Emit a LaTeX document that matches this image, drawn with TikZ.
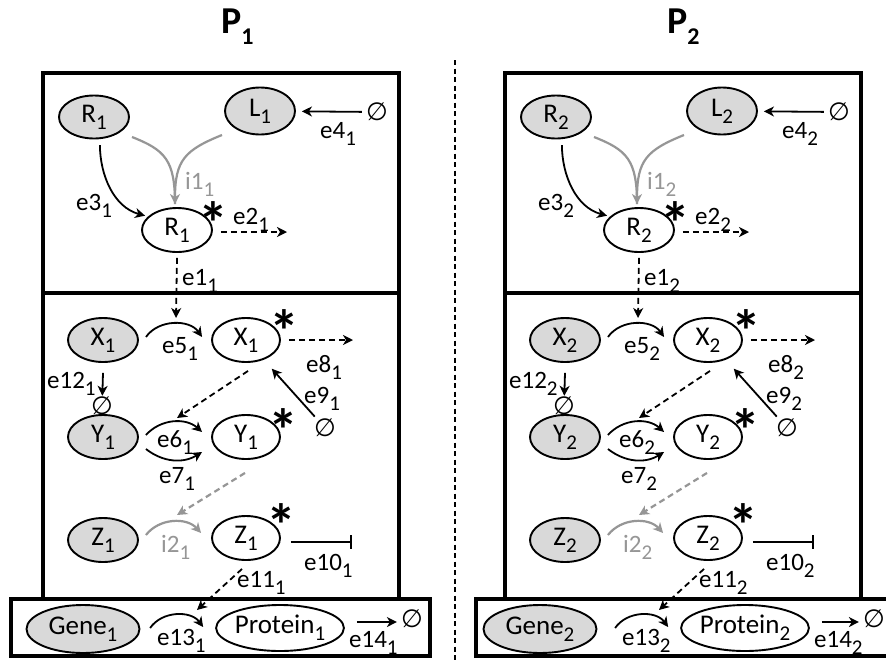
\documentclass[tikz,border=0pt]{standalone}
\usepackage{fontspec}
\setmainfont{Carlito}
\newfontfamily\djv{DejaVu Sans}
\usetikzlibrary{arrows.meta,shapes.geometric,calc}
\definecolor{nodegray}{RGB}{217,217,217}
\definecolor{arrgray}{RGB}{150,150,150}
\definecolor{txtgray}{RGB}{150,150,150}
\newcommand\sbs[1]{\raisebox{-7pt}{\fontsize{21}{21}\selectfont #1}}
\newcommand\nul{{\djv\fontsize{25}{25}\selectfont ∅}}
\begin{document}
\begin{tikzpicture}[x=1pt,y=1pt,
  ell/.style={draw,ellipse,line width=1.9pt,inner sep=0pt,minimum width=70pt,minimum height=44pt,font=\fontsize{27}{27}\selectfont},
  gell/.style={ell,fill=nodegray},
  lbl/.style={anchor=base west,inner sep=0pt,font=\fontsize{25}{25}\selectfont},
  glbl/.style={lbl,text=txtgray},
  arr/.style={line width=1.8pt,-{Stealth[length=10pt,width=10pt,inset=3pt]}},
  garr/.style={arr,draw=arrgray,line width=2.2pt},
  dsh/.style={dash pattern=on 6pt off 4pt},
  box/.style={line width=4.5pt},
  nul/.style={inner sep=0pt},
  starmark/.style={inner sep=0pt,font=\bfseries\fontsize{60}{60}\selectfont},
  title/.style={anchor=base west,inner sep=0pt,font=\bfseries\fontsize{38}{38}\selectfont}
]
\useasboundingbox (0,0) rectangle (886,-662);
\fill[white] (0,0) rectangle (886,-662);
\clip (0,0) rectangle (886,-662);

\node[title] (T1) at (221,-33) {P\raisebox{-11pt}{\fontsize{24}{24}\selectfont 1}};
\node[title] (T2) at (667,-33) {P\raisebox{-11pt}{\fontsize{24}{24}\selectfont 2}};
\draw[line width=2pt,dash pattern=on 5pt off 3.5pt] (455,-60) -- (455,-662);

\foreach \i/\dx/\dg/\db/\nx in {1/0/0/0/412, 2/462/457/465/874} {
  % boxes
  \draw[box] (\dx+43,-73) rectangle (\dx+399,-293);
  \draw[box] (\dx+43,-293) rectangle (\dx+399,-599);
  \draw[box] (\db+11,-599) rectangle (\db+430,-656);

  % top compartment
  \node[gell,minimum height=43pt] (Rg\i) at (\dx+94,-117) {R\sbs{\i}};
  \node[gell,minimum height=47pt] (Lg\i) at (\dx+260,-111) {L\sbs{\i}};
  \node[nul] (n4\i) at (\dx+377,-112) {\nul};
  \node[ell] (Rs\i) at (\dx+177,-230) {R\sbs{\i}};
  \node[starmark] (sR\i) at (\dx+213,-223) {*};
  \draw[arr,shorten <=4pt,shorten >=6pt] (n4\i) -- (Lg\i);
  \node[lbl] (le4\i) at (\dx+320,-138) {e4\sbs{\i}};
  \draw[arr,shorten <=6pt,shorten >=3pt] (Rg\i.-75) to[out=-90,in=165] (Rs\i.155);
  \node[lbl] (le3\i) at (\dx+76,-210) {e3\sbs{\i}};
  \coordinate (ia\i) at (\dx+132,-137);
  \coordinate (ib\i) at (\dx+222,-135);
  \draw[garr,-,shorten >=3pt] (ia\i) .. controls (\dx+165,-150) and (\dx+175,-160) .. ([xshift=-2pt]Rs\i.north);
  \draw[garr,shorten >=3pt] (ib\i) .. controls (\dx+185,-150) and (\dx+175,-160) .. ([xshift=-2pt]Rs\i.north);
  \node[glbl] (li1\i) at (\dx+185,-189) {i1\sbs{\i}};
  \coordinate (e2e\i) at (\dx+287,-232);
  \draw[arr,dsh] ([shift={(8,-2)}]Rs\i.east) -- (e2e\i);
  \node[lbl] (le2\i) at (\dx+233,-224) {e2\sbs{\i}};
  \coordinate (e1e\i) at (\dx+176,-318);
  \draw[arr,dsh] ([yshift=-5pt]Rs\i.south) -- (e1e\i);
  \node[lbl] (le1\i) at (\dx+182,-285) {e1\sbs{\i}};

  % X row
  \node[gell] (Xg\i) at (\dx+103,-340) {X\sbs{\i}};
  \node[ell,minimum width=68pt] (Xs\i) at (\dx+246,-340) {X\sbs{\i}};
  \node[starmark] (sX\i) at (\dx+284,-331) {*};
  \draw[arr] ([shift={(7,3)}]Xg\i.east) to[bend left=55] ([shift={(-9,3)}]Xs\i.west);
  \node[lbl] (le5\i) at (\dx+162,-353) {e5\sbs{\i}};
  \coordinate (e8e\i) at (\dx+353,-340);
  \draw[arr,dsh] ([xshift=8pt]Xs\i.east) -- (e8e\i);
  \node[lbl] (le8\i) at (\dx+306,-372) {e8\sbs{\i}};
  \node[nul] (n9\i) at (\dx+325,-428) {\nul};
  \draw[arr,shorten <=3pt,shorten >=12pt] (n9\i) -- (Xs\i);
  \node[lbl] (le9\i) at (\dx+304,-403) {e9\sbs{\i}};
  \coordinate (c6\i) at (\dx+177,-418);
  \draw[arr,dsh] ([shift={(2,-8)}]Xs\i.south) -- (c6\i);
  \node[nul] (n12\i) at (\dx+102,-406) {\nul};
  \draw[arr,shorten >=1pt] ([yshift=-10pt]Xg\i.south) -- (n12\i);
  \node[lbl] (le12\i) at (\dx+47,-388) {e12\sbs{\i}};

  % Y row
  \node[gell] (Yg\i) at (\dx+103,-437) {Y\sbs{\i}};
  \node[ell,minimum width=68pt] (Ys\i) at (\dx+246,-437) {Y\sbs{\i}};
  \node[starmark] (sY\i) at (\dx+283,-430) {*};
  \draw[arr] ([shift={(7,2)}]Yg\i.east) to[bend left=45] ([shift={(-9,5)}]Ys\i.west);
  \draw[arr] ([shift={(7,-12)}]Yg\i.east) to[bend right=35] ([shift={(-9,-15)}]Ys\i.west);
  \node[lbl] (le6\i) at (\dx+157,-447) {e6\sbs{\i}};
  \node[lbl] (le7\i) at (\dx+159,-483) {e7\sbs{\i}};
  \coordinate (ci2\i) at (\dx+177,-515);
  \draw[garr,dsh] ([shift={(-1,-13)}]Ys\i.south) -- (ci2\i);

  % Z row
  \node[gell] (Zg\i) at (\dx+103,-540) {Z\sbs{\i}};
  \node[ell,minimum width=68pt] (Zs\i) at (\dx+246,-538) {Z\sbs{\i}};
  \node[starmark] (sZ\i) at (\dx+281,-525) {*};
  \draw[garr] ([shift={(7,5)}]Zg\i.east) to[bend left=50] ([shift={(-10,5)}]Zs\i.west);
  \node[glbl] (li2\i) at (\dx+161,-552) {i2\sbs{\i}};
  \coordinate (e10e\i) at (\dx+352,-542);
  \draw[line width=1.8pt,-{Bar[width=14pt,line width=1.8pt]}] ([shift={(10,-4)}]Zs\i.east) -- (e10e\i);
  \node[lbl] (le10\i) at (\dx+304,-570) {e10\sbs{\i}};
  \coordinate (c13\i) at (\dx+197,-610);
  \draw[arr,dsh] ([shift={(-4,-8)}]Zs\i.south) -- (c13\i);
  \node[lbl] (le11\i) at (\dx+237,-587) {e11\sbs{\i}};

  % bottom compartment
  \node[gell,minimum width=113pt,minimum height=48pt] (G\i) at (\dg+83,-629) {Gene\sbs{\i}};
  \node[ell,minimum width=120pt,minimum height=46pt] (P\i) at (\db+280,-628) {Protein\sbs{\i}};
  \draw[arr] ([xshift=-65pt]P\i.west) to[bend left=55] ([shift={(-12,1)}]P\i.west);
  \node[lbl] (le13\i) at (\db+157,-645) {e13\sbs{\i}};
  \node[nul] (n14\i) at (\nx,-619) {\nul};
  \draw[arr,shorten >=4pt] ([shift={(12,6)}]P\i.east) -- ([yshift=-3pt]n14\i.west);
  \node[lbl] (le14\i) at (\db+349,-647) {e14\sbs{\i}};
}
\end{tikzpicture}
\end{document}
